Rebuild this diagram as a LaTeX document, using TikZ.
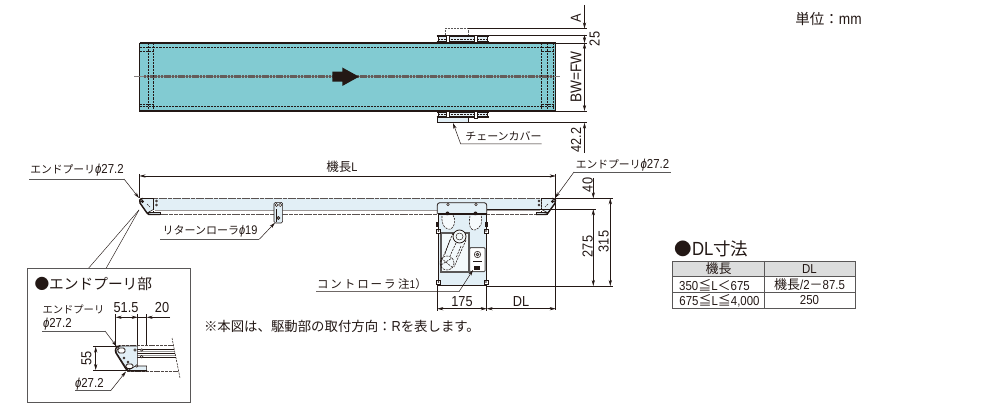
\documentclass[tikz,border=0pt]{standalone}
\usepackage{fontspec}
\setmainfont[FakeStretch=0.88]{Liberation Sans}
\newfontfamily\jp{Noto Sans CJK JP}
\usetikzlibrary{arrows.meta}
\newcommand{\J}[1]{{\jp #1}}
\newcommand{\PHI}{\textit{ϕ}}
\definecolor{beltc}{HTML}{82CBD2}
\definecolor{lightb}{HTML}{E2EFF6}
\definecolor{ink}{HTML}{231815}
\definecolor{boxg}{HTML}{595757}
\definecolor{headg}{HTML}{DCDDDD}
\tikzset{
 x=1pt,y=-1pt,
 every node/.style={inner sep=0pt,outer sep=0pt,text=ink},
 ln/.style={draw=ink,line width=0.55pt},
 thin line/.style={draw=ink,line width=0.45pt},
 dim/.style={draw=ink,line width=0.55pt,{Stealth[length=6pt,width=3.2pt]}-{Stealth[length=6pt,width=3.2pt]}},
 lead/.style={draw=ink,line width=0.5pt,-{Stealth[length=6pt,width=3.2pt]}},
 ul/.style={draw=boxg,line width=0.7pt},
 dsh/.style={draw=ink,line width=0.55pt,dash pattern=on 2.2pt off 1pt},
 cdsh/.style={draw=ink!70,line width=2.8pt,dash pattern=on 2.2pt off 0.6pt},
 txt/.style={font=\fontsize{11}{12}\selectfont},
 num/.style={font=\fontsize{14.5}{15}\selectfont},
 tbl/.style={font=\fontsize{13}{14}\selectfont},
 hole/.style={draw=ink,line width=0.5pt,fill=white,circle,minimum size=3.2pt},
}
\begin{document}
\begin{tikzpicture}
\useasboundingbox (0,0) rectangle (1000,411);
\fill[white] (0,0) rectangle (1000,411);

% ---------- top view ----------
\draw[ln,fill=beltc] (139.5,43) rectangle (555.7,111);
\draw[draw=ink,line width=1.1pt] (139.5,43) -- (555.7,43);
\draw[draw=ink,line width=1.1pt] (139.5,111) -- (555.7,111);
\draw[dsh] (153,47.3) -- (542,47.3);
\draw[dsh] (153,106.7) -- (542,106.7);
\draw[draw=ink!55,line width=0.7pt] (134,76.7) -- (560,76.7);
\draw[cdsh] (144,76.7) -- (554,76.7);
\foreach \xx in {148,153.2,541.7,547.5,553}{\draw[dsh] (\xx,43) -- (\xx,111);}
\draw[dsh] (139.5,47.3) -- (153,47.3) (139.5,51) -- (153,51) (139.5,104) -- (153,104) (139.5,106.7) -- (153,106.7);
\draw[dsh] (542,47.3) -- (555.7,47.3) (542,51) -- (555.7,51) (542,104) -- (555.7,104) (542,106.7) -- (555.7,106.7);
\fill[ink] (332.3,71.7) -- (342.3,71.7) -- (342.3,67.5) -- (359,76.7) -- (342.3,86) -- (342.3,81.7) -- (332.3,81.7) -- cycle;

% chain cover brackets
\draw[dsh,draw=boxg] (445,35.5) -- (445,28.5) -- (468,28.5) -- (468,35.5);
\draw[ln,fill=lightb] (438,36) rectangle (487,41.7);
\draw[draw=ink,line width=1.1pt] (436.5,36) -- (488.5,36);
\draw[draw=ink,line width=1.1pt] (436.5,41.7) -- (488.5,41.7);
\draw[dsh] (438,39) -- (487,39);
\draw[ln,fill=lightb] (438,112) rectangle (487,117);
\draw[draw=ink,line width=1.1pt] (436.5,112) -- (488.5,112);
\draw[draw=ink,line width=1.1pt] (436.5,117) -- (488.5,117);
\draw[dsh] (438,114.5) -- (487,114.5);
\foreach \xx in {448,476}{
 \draw[ln,fill=white] (\xx-1.5,35) rectangle (\xx+1.5,42.5);
 \draw[ln,fill=white] (\xx-1.5,111) rectangle (\xx+1.5,118);
}
\draw[ln,fill=lightb] (437.5,117.5) rectangle (468,122.7);

% top-view dimension lines
\draw[thin line] (468,28.5) -- (587,28.5);
\draw[thin line] (488,35.7) -- (587,35.7);
\draw[thin line] (555.7,43) -- (587,43);
\draw[thin line] (555.7,111) -- (587,111);
\draw[thin line] (468,122.7) -- (587,122.7);
\draw[ln,-{Stealth[length=6pt,width=3.2pt]}] (584.5,5) -- (584.5,28.5);
\fill[ink] (584.5,35.7) circle (0.9);
\draw[ln,-{Stealth[length=6pt,width=3.2pt]}] (584.5,36) -- (584.5,43);
\draw[dim] (584.5,43) -- (584.5,111);
\draw[ln,-{Stealth[length=6pt,width=3.2pt]}] (584.5,153) -- (584.5,122.7);
\node[num,rotate=90] (dA) at (576,18) {A};
\node[num,rotate=90] (d25) at (594.5,39) {25};
\node[rotate=90,font=\fontsize{15.5}{16}\selectfont] (dBW) at (576,77) {BW=FW};
\node[num,rotate=90] (d42) at (576,140) {42.2};

% chain cover leader
\coordinate (ccT) at (453,123);
\coordinate (ccB) at (460.7,144);
\coordinate (ccE) at (541.7,144);
\draw[lead] (ccE) -- (ccB) -- (ccT);
\node[txt] (cc) at (503.5,136) {\J{チェーンカバー}};

\node[font=\fontsize{15.5}{16}\selectfont] (unit) at (828.5,19) {{\fontsize{14.5}{15}\J{単位：}}mm};

% ---------- side view ----------
\draw[draw=none,fill=lightb] (145,198.5) rectangle (552,210);
\draw[draw=ink!75,line width=1pt,dash pattern=on 4pt off 0.6pt] (145,198.5) -- (553,198.5);
\draw[draw=ink!75,line width=1pt,dash pattern=on 4pt off 0.8pt] (150,214.5) -- (545,214.5);
\draw[draw=ink!45,line width=0.6pt] (155,210) -- (540,210);

% left end pulley
\draw[ln,fill=lightb] (142,198.5) -- (153.5,198.5) -- (153.5,209.5) -- (147,213) -- (140,203) -- cycle;
\draw[ln,fill=lightb] (148,212) rectangle (160,214.5);
\draw[draw=ink,line width=1.4pt] (143,198.5) .. controls (139.5,198.5) and (139,201) .. (140,203) -- (147,213) .. controls (148,214.5) and (149,214.5) .. (151,214.5) -- (160,214.5);
\fill[ink] (142.5,201.5) circle (1.6);
\draw[dsh] (147,204) -- (150,207);
\node[hole,minimum size=2pt] (lp1) at (156.5,201) {};
\node[hole,minimum size=2pt] (lp2) at (156.5,205) {};
\draw[dsh] (153.5,198.5) -- (153.5,212);
% right end pulley
\draw[ln,fill=lightb] (553,198.5) -- (541.7,198.5) -- (541.7,209.5) -- (548,213) -- (555.2,203) -- cycle;
\draw[ln,fill=lightb] (547,212) rectangle (536,214.5);
\draw[draw=ink,line width=1.4pt] (552,198.5) .. controls (555.7,198.5) and (556.2,201) .. (555.2,203) -- (548,213) .. controls (547,214.5) and (546,214.5) .. (544,214.5) -- (536,214.5);
\fill[ink] (552.5,201.5) circle (1.6);
\draw[dsh] (548,204) -- (545,207);
\node[hole,minimum size=2pt] (rp1) at (539,201) {};
\node[hole,minimum size=2pt] (rp2) at (539,205) {};
\draw[dsh] (541.7,198.5) -- (541.7,212);

% return roller
\draw[ln,fill=lightb,rounded corners=1.5pt] (274,202.3) rectangle (282.7,223);
\node[hole] (rr1) at (276.5,205) {};
\node[hole] (rr2) at (280.2,205) {};
\node[hole,fill=ink!60] (rr3) at (278.3,218) {};
\draw[thin line] (276,209) -- (276,222);

% drive unit
\draw[ln,fill=lightb] (438,214) rectangle (486.5,285);
\draw[draw=ink,line width=0.8pt,fill=lightb,rounded corners=2.5pt] (437.3,214) -- (437.3,202.7) -- (486.7,202.7) -- (486.7,214);
\draw[draw=ink,line width=1.5pt] (438,213.7) -- (486.5,213.7);
\node[hole,minimum size=2.6pt] (pa) at (448,204.5) {};
\node[hole,minimum size=2.6pt] (pb) at (476,204.5) {};
\fill[ink] (447.5,213.5) circle (2);
\fill[ink] (475.5,213.5) circle (2);
\draw[ln,fill=ink] (436.5,222) rectangle (438.5,226);
\draw[ln,fill=ink] (485.5,222) rectangle (487.5,226);
\draw[draw=boxg,line width=1.1pt,fill=white!60!lightb] (441,233) rectangle (469,272);
% pulleys and chain (dashed)
\draw[dsh,fill=white!70!lightb] (442,216) .. controls (441,226) and (447,231) .. (451,229) .. controls (455,226) and (456,220) .. (453,215);
\draw[dsh,fill=white!70!lightb] (470,216) .. controls (468,226) and (471,231) .. (475,230) .. controls (481,228) and (483,222) .. (481,215);
\draw[dsh] (453,233) -- (441,262) (466,240) -- (454,267);
\draw[dsh] (447,263) circle (7);
\draw[dsh] (441,258) -- (453,268) (441,265) -- (452,258);
\draw[dsh] (450,240) -- (445,254) (456,243) -- (450,256) (461,246) -- (456,258);
\draw[draw=ink,line width=0.8pt,fill=white!60!lightb] (459.5,236.5) circle (6.5);
\draw[thin line] (459.5,236.5) circle (3.5);
\draw[draw=boxg,line width=1pt,fill=white,rounded corners=1pt] (469.7,247.7) rectangle (485,271.7);
\draw[ln] (477.5,254.5) circle (3.2);
\draw[ln,fill=ink!30] (477.5,254.5) circle (1.5);
\draw[draw=ink,line width=1pt] (473,262) -- (482,262);
\fill[ink] (474,266) rectangle (480,270);
\foreach \nn/\xx/\yy in {c1/438.5/231,c2/486/231,c3/438.5/282,c4/486/282}{
 \node[draw=ink,fill=white,line width=0.5pt,minimum size=3.6pt] (\nn) at (\xx,\yy) {};
 \fill[ink] (\xx,\yy) circle (0.8);
}
\coordinate (ctT) at (473,270);
\coordinate (ctK) at (459,291.7);
\coordinate (ctE) at (316,291.7);
\draw[lead] (ctE) -- (ctK) -- (ctT);
\node[font=\fontsize{11.5}{12}\selectfont,anchor=west] (ct) at (317,283.8) {\J{コ\,ン\,ト\,ロ\,ー\,ラ\ 注}1\J{）}};

% side-view dimensions
\draw[thin line] (139.5,174) -- (139.5,198);
\draw[thin line] (555.7,174) -- (555.7,310);
\draw[dim] (139.5,176) -- (555.7,176);
\node[font=\fontsize{12.5}{13}\selectfont] (dL) at (342,166.5) {\J{機長}L};
\draw[thin line] (437.3,285) -- (437.3,311);
\draw[thin line] (486.7,285) -- (486.7,311);
\draw[dim] (437.3,308.7) -- (486.7,308.7);
\draw[dim] (486.7,308.7) -- (555.7,308.7);
\node[num] (d175) at (462,301.5) {175};
\node[num] (dDL) at (521,301.5) {DL};
\draw[thin line] (555,198.3) -- (613,198.3);
\draw[thin line] (487,209.3) -- (596,209.3);
\draw[thin line] (487,286) -- (613,286);
\draw[ln,-{Stealth[length=6pt,width=3.2pt]}] (593.3,178) -- (593.3,198.3);
\draw[dim] (593.3,209.3) -- (593.3,286);
\draw[dim] (610.3,198.3) -- (610.3,286);
\node[num,rotate=90] (d40) at (587.5,185) {40};
\node[num,rotate=90] (d275) at (587.5,246.5) {275};
\node[num,rotate=90] (d315) at (603.5,241.5) {315};

% end pulley leaders
\coordinate (elT) at (139,198);
\coordinate (elK) at (124,179);
\coordinate (elE) at (29,179);
\draw[ul] (elE) -- (elK);
\draw[lead] (elK) -- (elT);
\node[font=\fontsize{10.8}{12}\selectfont] (elt) at (77,170.5) {\J{エンドプーリ}{\fontsize{13}{12}\selectfont\PHI27.2}};
\coordinate (erT) at (555,198);
\coordinate (erK) at (574,172);
\coordinate (erE) at (670.7,172);
\draw[ul] (erE) -- (erK);
\draw[lead] (erK) -- (erT);
\node[font=\fontsize{10.8}{12}\selectfont] (ert) at (622.5,165) {\J{エンドプーリ}{\fontsize{13}{12}\selectfont\PHI27.2}};
% return roller leader
\coordinate (rrT) at (275,222.7);
\coordinate (rrK) at (259.3,239.3);
\coordinate (rrE) at (160,239.3);
\draw[ul] (rrE) -- (rrK);
\draw[lead] (rrK) -- (rrT);
\node[font=\fontsize{11}{12}\selectfont] (rrt) at (210,231) {\J{リターンローラ}{\fontsize{12.5}{12}\selectfont\PHI19}};

% ---------- inset ----------
\coordinate (bxa) at (88.3,268.5);
\coordinate (bxb) at (106,268.5);
\coordinate (lpt) at (139,210);
\draw[thin line] (lpt) -- (bxa);
\draw[thin line] (lpt) -- (bxb);
\draw[draw=boxg,line width=0.8pt,fill=white] (27.3,268.5) rectangle (190.3,402.7);
\node[anchor=west,font=\fontsize{14.7}{16}\selectfont] (ist) at (34.5,283.5) {\J{●エンドプーリ部}};
\node[anchor=west,font=\fontsize{10.3}{11}\selectfont] (ia) at (42.5,309) {\J{エンドプーリ}};
\node[anchor=west,font=\fontsize{13}{14}\selectfont] (ib) at (43,324) {\PHI27.2};
\node[num] (i515) at (126,308) {51.5};
\node[num] (i20) at (162,308) {20};
\draw[thin line] (115.7,314) -- (115.7,346);
\draw[thin line] (137.7,314) -- (137.7,345);
\draw[thin line] (146.7,314) -- (146.7,345);
\draw[dim] (115.7,317.3) -- (137.7,317.3);
\draw[ln] (137.7,317.3) -- (146.7,317.3);
\draw[ln,-{Stealth[length=6pt,width=3.2pt]}] (170,317.3) -- (146.7,317.3);
\coordinate (iaT) at (116.7,346.5);
\coordinate (iaK) at (105,331);
\coordinate (iaE) at (42,331);
\draw[ul] (iaE) -- (iaK);
\draw[lead] (iaK) -- (iaT);
\draw[thin line] (93,346.7) -- (120,346.7);
\draw[thin line] (93,370) -- (127,370);
\draw[dim] (95.7,346.7) -- (95.7,370);
\node[num,rotate=90] (i55) at (86.5,358) {55};
\coordinate (ibT) at (126,371.5);
\coordinate (ibK) at (110.7,390.7);
\coordinate (ibE) at (75,390.7);
\draw[ul] (ibE) -- (ibK);
\draw[lead] (ibK) -- (ibT);
\node[anchor=west,font=\fontsize{13}{14}\selectfont] (ic) at (75,384) {\PHI27.2};
% inset pulley
\draw[draw=ink!80,line width=0.9pt,dash pattern=on 3pt off 0.8pt] (122,345.7) -- (173,345.7);
\draw[draw=ink!80,line width=0.9pt,dash pattern=on 3pt off 0.8pt] (127,371.5) -- (178,371.5);
\draw[thin line] (137,349.3) -- (174,349.3);
\draw[thin line] (137,353.3) -- (175,353.3);
\draw[thin line] (137,357.3) -- (176,357.3);
\draw[draw=boxg!60,line width=0.5pt] (137,351.3) -- (174,351.3) (137,355.3) -- (175,355.3);
\draw[ln,fill=lightb] (131,366) -- (146.7,366) -- (146.7,370.7) -- (127,370.7) -- cycle;
\draw[ln,fill=lightb] (119.3,346) -- (137.3,346) -- (137.3,365) -- (128,370.5) -- (116,352) -- cycle;
\draw[draw=ink,line width=1.4pt] (120.5,345.7) .. controls (116,345.7) and (114.5,350) .. (116,353) -- (126,369) .. controls (127,370.5) and (128,370.8) .. (130,370.8) -- (147,370.8);
\draw[draw=ink,line width=0.9pt,fill=white,rounded corners=1.5pt] (118,348) rectangle (125,353);
\node[hole,minimum size=2.6pt] (ih1) at (135,350) {};
\node[hole,minimum size=2.6pt] (ih2) at (141.7,350) {};
\node[hole,minimum size=2.6pt] (ih3) at (141.7,356.7) {};
\node[hole,minimum size=2.2pt] (ih4) at (124,358) {};
\node[hole,minimum size=2.2pt] (ih5) at (128,362) {};
\draw[draw=ink,line width=0.9pt,fill=white,rounded corners=1.5pt] (126,364) rectangle (133,368.5);
\node[hole,minimum size=2.6pt] (ih6) at (136.7,366) {};
\draw[dsh,line width=0.5pt] (172,338) -- (180,378);

% note
\node[anchor=west,font=\fontsize{13.4}{14}\selectfont] (note) at (204,326.5) {\J{※本図は、駆動部の取付方向：}{\fontsize{14.5}{14}\selectfont R}\J{を表します。}};

% ---------- table ----------
\node[anchor=west,font=\fontsize{17.5}{18}\selectfont] (tt) at (674.5,248.5) {\J{●}{\fontsize{19}{19}\selectfont DL}\J{寸法}};
\fill[headg] (672.7,261) rectangle (855,276.7);
\draw[draw=boxg,line width=0.8pt] (672.7,261) rectangle (855,308.3);
\draw[draw=boxg,line width=0.8pt] (764,261) -- (764,308.3);
\draw[draw=boxg,line width=0.8pt] (672.7,276.7) -- (855,276.7);
\draw[draw=boxg,line width=0.8pt] (672.7,292.3) -- (855,292.3);
\node[tbl] (t1) at (718.5,269) {\J{機長}};
\node[tbl] (t2) at (809.5,269) {DL};
\node[tbl] (t3) at (714.5,285) {350\J{≦}L\J{＜}675};
\node[tbl] (t4) at (809.5,285) {\J{機長}/2\J{－}87.5};
\node[tbl] (t5) at (719.5,300.5) {675\J{≦}L\J{≦}4,000};
\node[tbl] (t6) at (809.5,300.5) {250};
\end{tikzpicture}
\end{document}
